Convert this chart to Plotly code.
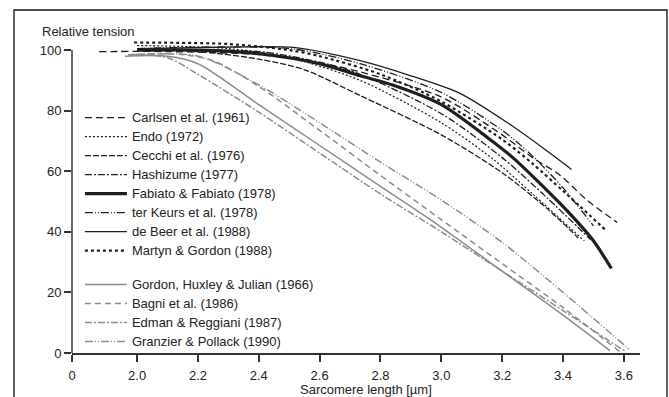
import plotly.graph_objects as go

# ---------------- data ----------------
carlsen_x = [1.875, 2.10, 2.40, 2.60, 2.733, 3.00, 3.20, 3.30, 3.39, 3.478, 3.578]
carlsen_y = [99.5, 99.5, 98.5, 95.8, 92.8, 84.5, 72.0, 64.5, 58.7, 50.5, 43.1]

endo_x = [2.00, 2.30, 2.50, 2.733, 3.00, 3.17, 3.30, 3.47]
endo_y = [101.5, 100.5, 97.5, 90.0, 76.0, 64.0, 52.5, 37.0]

cecchi_x = [2.00, 2.20, 2.40, 2.55, 2.733, 3.00, 3.20, 3.35, 3.45]
cecchi_y = [100.0, 99.5, 97.0, 93.5, 85.0, 72.0, 59.5, 47.5, 38.0]

hashizume_x = [2.00, 2.40, 2.60, 2.733, 3.00, 3.20, 3.35, 3.49]
hashizume_y = [100.0, 99.5, 96.0, 92.0, 79.0, 64.5, 51.0, 37.5]

fabiato_x = [2.00, 2.20, 2.40, 2.60, 2.733, 2.84, 3.00, 3.16, 3.235, 3.324, 3.413, 3.498, 3.559]
fabiato_y = [100.0, 100.0, 98.8, 95.5, 91.5, 88.5, 82.0, 70.5, 64.5, 56.0, 47.0, 37.3, 27.9]

terkeurs_x = [2.00, 2.50, 2.733, 3.00, 3.20, 3.30, 3.40, 3.50]
terkeurs_y = [100.5, 100.5, 95.5, 86.0, 73.5, 65.0, 54.5, 42.0]

debeer_x = [2.00, 2.30, 2.52, 2.733, 2.90, 3.061, 3.225, 3.33, 3.428]
debeer_y = [100.5, 101.0, 100.8, 96.5, 91.5, 85.7, 75.5, 68.0, 60.6]

martyn_x = [1.99, 2.30, 2.50, 2.60, 2.80, 3.00, 3.20, 3.30, 3.40, 3.455, 3.543]
martyn_y = [102.5, 102.0, 100.0, 98.0, 92.0, 83.0, 70.5, 62.5, 53.5, 48.5, 40.3]

gordon_x = [1.96, 2.10, 2.20, 2.40, 2.60, 2.80, 3.00, 3.20, 3.40, 3.554]
gordon_y = [98.0, 98.0, 95.5, 82.0, 68.5, 55.0, 41.5, 27.0, 12.5, 0.8]

bagni_x = [1.97, 2.15, 2.25, 2.40, 2.60, 2.80, 3.00, 3.20, 3.40, 3.587]
bagni_y = [98.5, 98.5, 96.5, 88.0, 73.5, 58.6, 44.0, 29.5, 15.0, 0.4]

edman_x = [1.97, 2.10, 2.20, 2.40, 2.60, 2.80, 3.00, 3.20, 3.40, 3.605]
edman_y = [98.5, 97.5, 92.0, 79.5, 66.0, 52.5, 40.0, 27.0, 14.0, 0.5]

granzier_x = [1.98, 2.20, 2.40, 2.60, 2.80, 3.00, 3.20, 3.40, 3.62]
granzier_y = [98.5, 98.0, 88.5, 76.0, 63.0, 50.5, 36.5, 20.0, 1.0]

x_tick_vals = [1.786, 2.0, 2.2, 2.4, 2.6, 2.8, 3.0, 3.2, 3.4, 3.6]
x_tick_text = ["0", "2.0", "2.2", "2.4", "2.6", "2.8", "3.0", "3.2", "3.4", "3.6"]
y_tick_vals = [0, 20, 40, 60, 80, 100]

BLACK = "#1e1e1e"
GREY = "#8c8c8c"

series = [
    ("Carlsen et al. (1961)", carlsen_x, carlsen_y, BLACK, 1.3, "7px,4px", "a"),
    ("Endo (1972)", endo_x, endo_y, BLACK, 1.2, "2px,2px", "a"),
    ("Cecchi et al. (1976)", cecchi_x, cecchi_y, BLACK, 1.3, "6px,2px", "a"),
    ("Hashizume (1977)", hashizume_x, hashizume_y, BLACK, 1.3, "7px,2px,2px,2px", "a"),
    ("Fabiato & Fabiato (1978)", fabiato_x, fabiato_y, BLACK, 3.2, "solid", "a"),
    ("ter Keurs et al. (1978)", terkeurs_x, terkeurs_y, BLACK, 1.3, "8px,2px,1px,2px,1px,2px", "a"),
    ("de Beer et al. (1988)", debeer_x, debeer_y, BLACK, 1.3, "solid", "a"),
    ("Martyn & Gordon (1988)", martyn_x, martyn_y, BLACK, 2.2, "3px,3px", "a"),
    ("Gordon, Huxley & Julian (1966)", gordon_x, gordon_y, GREY, 1.5, "solid", "b"),
    ("Bagni et al. (1986)", bagni_x, bagni_y, GREY, 1.5, "6px,4px", "b"),
    ("Edman & Reggiani (1987)", edman_x, edman_y, GREY, 1.5, "7px,2px,2px,2px", "b"),
    ("Granzier & Pollack (1990)", granzier_x, granzier_y, GREY, 1.5, "8px,2px,1px,2px,1px,2px", "b"),
]

fig = go.Figure()
for name, xs, ys, col, w, dash, grp in series:
    fig.add_trace(go.Scatter(
        x=xs, y=ys, mode="lines",
        name="<span style='font-size:13px'>" + name + "</span>",
        legendgroup=grp,
        line=dict(color=col, width=w, dash=dash, shape="spline", smoothing=0.8),
    ))

FONT = "Liberation Sans, Arial, sans-serif"
TXT = "#222222"
fig.update_layout(
    width=669, height=397,
    margin=dict(l=72, r=29, t=41, b=44),
    paper_bgcolor="white", plot_bgcolor="white",
    font=dict(family=FONT, size=13, color=TXT),
    showlegend=True,
    legend=dict(
        x=0.0139, y=0.801, xanchor="left", yanchor="top",
        bgcolor="rgba(0,0,0,0)", borderwidth=0,
        font=dict(family=FONT, size=12, color=TXT),
        tracegroupgap=15, traceorder="grouped", itemwidth=42,
    ),
    xaxis=dict(
        range=[1.786, 3.653], tickmode="array", tickvals=x_tick_vals, ticktext=x_tick_text,
        showgrid=False, zeroline=False, showline=True, linecolor="#333333", linewidth=1.5,
        ticks="outside", ticklen=7, tickwidth=1.5, tickcolor="#333333",
        ticklabelstandoff=3,
        tickfont=dict(family=FONT, size=13, color=TXT),
    ),
    yaxis=dict(
        range=[0, 103], tickmode="array", tickvals=y_tick_vals,
        showgrid=False, zeroline=False, showline=False,
        ticks="outside", ticklen=7, tickwidth=1.5, tickcolor="#333333",
        tickfont=dict(family=FONT, size=13, color=TXT),
    ),
    shapes=[
        dict(type="line", xref="paper", yref="y", x0=0, x1=0, y0=0, y1=100,
             line=dict(color="#333333", width=1.5)),
        dict(type="rect", xref="paper", yref="paper", x0=-0.1021, x1=1.0475,
             y0=-0.2, y1=1.0994, line=dict(color="#111111", width=1.3), layer="below"),
    ],
    annotations=[
        dict(text="Relative tension", xref="paper", yref="paper", x=-0.0563, y=1.029,
             xanchor="left", yanchor="middle", showarrow=False,
             font=dict(family=FONT, size=13, color=TXT)),
        dict(text="Sarcomere length [µm]", xref="paper", yref="paper", x=0.5176, y=-0.1154,
             xanchor="center", yanchor="middle", showarrow=False,
             font=dict(family=FONT, size=13, color=TXT)),
    ],
)

fig.write_html("out.html")
